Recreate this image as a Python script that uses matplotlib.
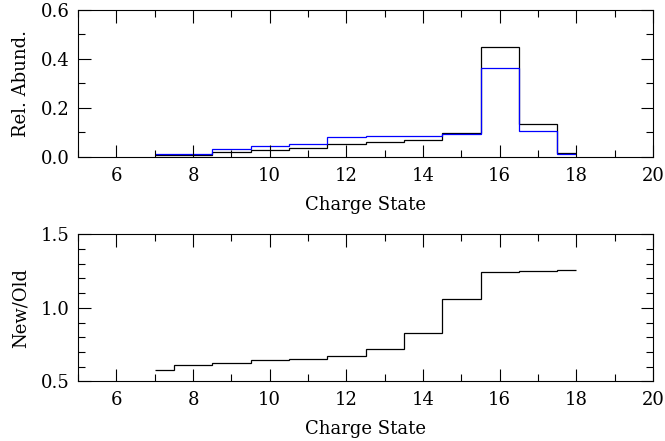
import numpy as np
import matplotlib
matplotlib.use("Agg")
import matplotlib.pyplot as plt
from matplotlib.ticker import MultipleLocator

# datos
charge = np.arange(7, 19)
abund_new = [0.007, 0.008, 0.020, 0.030, 0.036, 0.051, 0.061, 0.070, 0.097, 0.449, 0.135, 0.016]  # negro
abund_old = [0.011, 0.012, 0.034, 0.045, 0.054, 0.080, 0.085, 0.084, 0.093, 0.361, 0.107, 0.011]  # azul
ratio = [0.581, 0.615, 0.626, 0.644, 0.655, 0.673, 0.723, 0.827, 1.059, 1.243, 1.252, 1.254]

xticks = [6, 8, 10, 12, 14, 16, 18, 20]

plt.rcParams['font.family'] = ['DejaVu Serif']
plt.rcParams['font.size'] = 13

# bordes tipo psym=10 (medio bin en los extremos)
edges = np.concatenate([[charge[0]], (charge[:-1] + charge[1:]) / 2, [charge[-1]]])

fig = plt.figure(figsize=(6.65, 4.41), dpi=100)
ax1 = fig.add_axes([0.1173, 0.644, 0.8647, 0.334])
ax2 = fig.add_axes([0.1173, 0.135, 0.8647, 0.334])


def estilo(ax):
    ax.set_xlim(5, 20)
    ax.set_xticks(xticks)
    ax.xaxis.set_minor_locator(MultipleLocator(1))
    ax.yaxis.set_minor_locator(MultipleLocator(0.1))
    ax.tick_params(which='both', direction='in', top=True, right=True, width=0.8)
    ax.tick_params(which='major', length=9)
    ax.tick_params(which='minor', length=5)
    ax.tick_params(axis='x', pad=7)
    ax.tick_params(axis='y', pad=6)
    ax.set_xlabel("Charge State", labelpad=8)
    for s in ax.spines.values():
        s.set_linewidth(0.8)


ax1.stairs(abund_new, edges, color='black', lw=0.9, baseline=None)
ax1.stairs(abund_old, edges, color='blue', lw=0.9, baseline=None)
ax1.set_ylim(0, 0.6)
ax1.set_yticks([0.0, 0.2, 0.4, 0.6])
ax1.set_yticklabels(["0.0", "0.2", "0.4", "0.6"])
ax1.set_ylabel("Rel. Abund.", labelpad=8)
estilo(ax1)

ax2.stairs(ratio, edges, color='black', lw=0.9, baseline=None)
ax2.set_ylim(0.5, 1.5)
ax2.set_yticks([0.5, 1.0, 1.5])
ax2.set_yticklabels(["0.5", "1.0", "1.5"])
ax2.set_ylabel("New/Old", labelpad=8)
estilo(ax2)

fig.savefig("out.png", dpi=100)
